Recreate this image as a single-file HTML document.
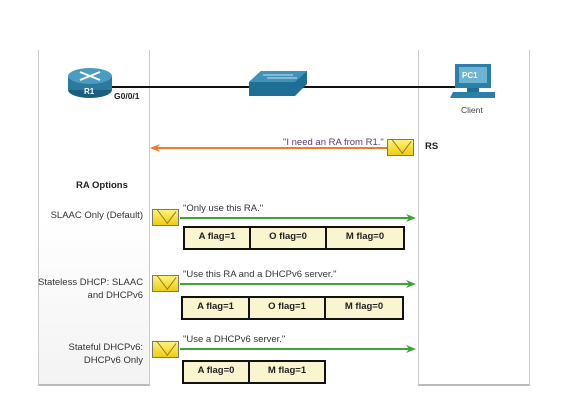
<!DOCTYPE html>
<html><head><style>
body{margin:0;width:563px;height:413px;background:#fff;position:relative;overflow:hidden;font-family:"Liberation Sans",sans-serif}
.a{position:absolute}
.t{font-size:9.5px;color:#333;white-space:nowrap}
.b{font-weight:bold;color:#222}
.box{position:absolute;height:24px;border:2px solid #111;background:#f8f5cf;box-sizing:border-box;font-size:9.5px;font-weight:bold;color:#222;text-align:center;line-height:18px}
.env{position:absolute;width:27px;height:17px;background:linear-gradient(#fff27a,#f0cc10);border:1px solid #777;box-sizing:border-box;overflow:hidden}
.env:after{content:"";position:absolute;left:2px;top:-8px;width:20px;height:14px;border-bottom:1px solid #8a7a20;border-right:1px solid #8a7a20;transform:rotate(45deg) skew(8deg,8deg)}
.r{text-align:right}
</style></head><body>
<div class="a" style="left:38px;top:50px;width:110px;height:334px;border-left:1px solid #ccc;border-right:1px solid #ccc;border-bottom:2px solid #bbb;background:linear-gradient(#fff 50%,#f3f3f3)"></div>
<div class="a" style="left:418px;top:50px;width:110px;height:334px;border-left:1px solid #ccc;border-right:1px solid #ccc;border-bottom:2px solid #bbb"></div>
<div class="a" style="left:95px;top:86px;width:380px;height:2px;background:#111"></div>
<svg class="a" style="left:66px;top:66px" width="48" height="34"><ellipse cx="24" cy="24" rx="22" ry="8" fill="#1b5f80"/><rect x="2" y="10" width="44" height="14" fill="#2a7aa0"/><ellipse cx="24" cy="10" rx="22" ry="8" fill="#4a9cc0"/><path d="M14 6l20 8M34 6l-20 8" stroke="#fff" stroke-width="2"/><text x="18" y="28" font-size="8" font-weight="bold" fill="#fff" font-family="Liberation Sans">R1</text></svg>
<div class="a t b" style="left:114px;top:91px;font-size:8.5px">G0/0/1</div>
<svg class="a" style="left:249px;top:70px" width="60" height="28"><polygon points="0,12 12,1 58,1 58,14 46,26 0,26" fill="#1e6e95"/><polygon points="0,12 12,1 58,1 46,12" fill="#3f93bb"/><path d="M14 5h30M18 8h30" stroke="#cde" stroke-width="1"/></svg>
<svg class="a" style="left:449px;top:62px" width="50" height="42"><rect x="6" y="2" width="36" height="24" fill="#2c7fa8"/><rect x="10" y="5" width="28" height="16" fill="#6fb3d3"/><text x="13" y="16" font-size="8" font-weight="bold" fill="#fff" font-family="Liberation Sans">PC1</text><rect x="18" y="26" width="12" height="4" fill="#1e6e95"/><polygon points="4,30 42,30 40,36 1,36" fill="#2c7fa8"/><rect x="40" y="30" width="6" height="6" fill="#2c7fa8"/></svg>
<div class="a t" style="left:461px;top:105px;font-size:8.5px;color:#444">Client</div>
<svg class="a" style="left:148px;top:138px" width="270" height="220">
<path d="M4 10H240" stroke="#f47a2a" stroke-width="2"/><path d="M2 10l10-4-3 4 3 4z" fill="#f47a2a"/>
<path d="M32 80H264" stroke="#3ea33a" stroke-width="2"/><path d="M268 80l-10-4 3 4-3 4z" fill="#3ea33a"/>
<path d="M32 146H264" stroke="#3ea33a" stroke-width="2"/><path d="M268 146l-10-4 3 4-3 4z" fill="#3ea33a"/>
<path d="M32 211H264" stroke="#3ea33a" stroke-width="2"/><path d="M268 211l-10-4 3 4-3 4z" fill="#3ea33a"/>
</svg>
<div class="a t" style="left:283px;top:137px;color:#5a3a6a">"I need an RA from R1."</div>
<div class="env" style="left:387px;top:139px"></div>
<div class="a t b" style="left:425px;top:141px">RS</div>
<div class="a t b" style="left:76px;top:180px">RA Options</div>
<div class="a t r" style="left:38px;top:210px;width:105px">SLAAC Only (Default)</div>
<div class="env" style="left:152px;top:209px"></div>
<div class="a t" style="left:183px;top:203px">"Only use this RA."</div>
<div class="box" style="left:183px;top:226px;width:68px">A flag=1</div>
<div class="box" style="left:249px;top:226px;width:78px">O flag=0</div>
<div class="box" style="left:325px;top:226px;width:80px">M flag=0</div>
<div class="a t r" style="left:38px;top:276px;width:105px;line-height:13px">Stateless DHCP: SLAAC<br>and DHCPv6</div>
<div class="env" style="left:152px;top:275px"></div>
<div class="a t" style="left:183px;top:269px">"Use this RA and a DHCPv6 server."</div>
<div class="box" style="left:181px;top:296px;width:69px">A flag=1</div>
<div class="box" style="left:248px;top:296px;width:78px">O flag=1</div>
<div class="box" style="left:324px;top:296px;width:80px">M flag=0</div>
<div class="a t r" style="left:38px;top:341px;width:105px;line-height:13px">Stateful DHCPv6:<br>DHCPv6 Only</div>
<div class="env" style="left:152px;top:341px"></div>
<div class="a t" style="left:183px;top:334px">"Use a DHCPv6 server."</div>
<div class="box" style="left:182px;top:360px;width:68px">A flag=0</div>
<div class="box" style="left:248px;top:360px;width:78px">M flag=1</div>
</body></html>
